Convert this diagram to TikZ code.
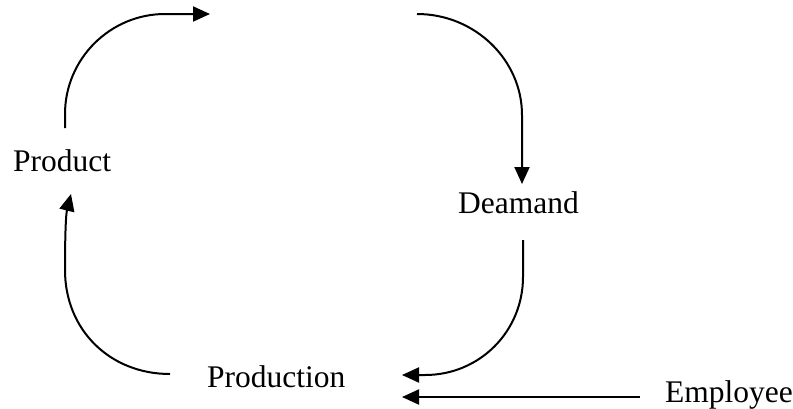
\documentclass[tikz,border=0pt]{standalone}
\usepackage{fontspec}
\setmainfont{Liberation Serif}
\usetikzlibrary{arrows.meta}
\begin{document}
\begin{tikzpicture}[x=1pt,y=-1pt,
  lbl/.style={anchor=base west,inner sep=0pt,font=\fontsize{31.5}{36}\selectfont},
  flow/.style={line width=2pt,-{Triangle[length=17pt,width=15pt]}}]
\useasboundingbox (0,0) rectangle (793,408);
\node[lbl] (product) at (13,171) {Product};
\node[lbl] (deamand) at (458,213) {Deamand};
\node[lbl] (production) at (207,387) {Production};
\node[lbl] (employee) at (665,402) {Employee};
\coordinate (a1s) at (65,128);
\coordinate (a1e) at (210,14);
\coordinate (a2s) at (417,14);
\coordinate (a2e) at (522,184);
\coordinate (a3s) at (523,240);
\coordinate (a3e) at (402,375);
\coordinate (a4s) at (170,374);
\coordinate (a4e) at (71,194);
\coordinate (e1) at (640,397);
\coordinate (e2) at (402,397);
\draw[flow] (a1s) -- (65,114) .. controls (65,59) and (110,14) .. (165,14) -- (a1e);
\draw[flow] (a2s) .. controls (475,14) and (522,60) .. (522,115) -- (a2e);
\draw[flow] (a3s) -- (523,277) .. controls (523,331) and (480,375) .. (425,375) -- (a3e);
\draw[flow] (a4s) .. controls (110,374) and (65,330) .. (65,270) .. controls (65,232) and (66,214) .. (a4e);
\draw[flow] (e1) -- (e2);
\end{tikzpicture}
\end{document}
